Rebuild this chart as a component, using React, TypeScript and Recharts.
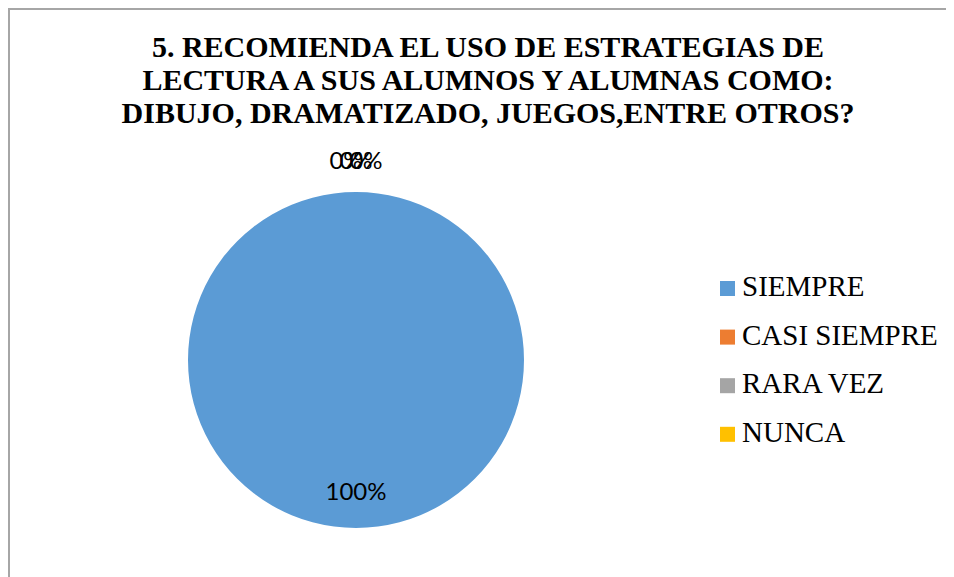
import { PieChart, Pie, Cell, Legend } from "recharts";

const categories = ["SIEMPRE", "CASI SIEMPRE", "RARA VEZ", "NUNCA"];
const values = [100, 0, 0, 0];
const colors = ["#5b9bd5", "#ed7d31", "#a5a5a5", "#ffc000"];
const titleLines = [
  "5. RECOMIENDA EL USO DE ESTRATEGIAS DE",
  "LECTURA A SUS ALUMNOS Y ALUMNAS COMO:",
  "DIBUJO, DRAMATIZADO, JUEGOS,ENTRE OTROS?",
];

const data = categories.map((name, i) => ({ name, value: values[i] }));

const RAD = Math.PI / 180;

// data labels: big slice inside, empty slices stacked outside at the top
function renderLabel(props: any) {
  const { cx, cy, midAngle, outerRadius, percent, index } = props;
  const inside = percent > 0.5;
  const r = inside ? outerRadius - 28 : outerRadius + 23;
  const x = cx + r * Math.cos(-midAngle * RAD) + (inside ? 0 : (index - 2) * 10);
  const y = cy + r * Math.sin(-midAngle * RAD);
  return (
    <text
      x={x}
      y={y}
      textAnchor="middle"
      fill="#000"
      fontFamily="Lato, 'Liberation Sans', sans-serif"
      fontSize={24}
    >
      {`${Math.round(percent * 100)}%`}
    </text>
  );
}

// legend keeps the series order of the data, not alphabetical
function LegendBox() {
  return (
    <svg width={234} height={200} style={{ display: "block" }}>
      {categories.map((name, i) => {
        const base = 26 + i * 48.6;
        return (
          <g key={name}>
            <rect x={5} y={base - 15} width={15} height={15} fill={colors[i]} />
            <text
              x={27}
              y={base}
              fontFamily="'Liberation Serif', 'Times New Roman', serif"
              fontSize={29}
              fill="#000"
            >
              {name}
            </text>
          </g>
        );
      })}
    </svg>
  );
}

export default function App() {
  return (
    <div
      style={{
        marginTop: -8,
        marginLeft: -8,
        position: "relative",
        width: 954,
        height: 577,
        overflow: "hidden",
        background: "#fff",
      }}
    >
      <svg
        width={954}
        height={577}
        style={{ position: "absolute", left: 0, top: 0 }}
      >
        <line x1={8} y1={9} x2={954} y2={9} stroke="#a6a6a6" strokeWidth={2} />
        <line x1={9} y1={8} x2={9} y2={577} stroke="#a6a6a6" strokeWidth={2} />
        {titleLines.map((line, i) => (
          <text
            key={i}
            x={488}
            y={57 + i * 33}
            textAnchor="middle"
            fontFamily="'Liberation Serif', 'Times New Roman', serif"
            fontWeight="bold"
            fontSize={30}
            fill="#000"
          >
            {line}
          </text>
        ))}
      </svg>
      <div style={{ position: "absolute", left: 0, top: 0 }}>
        <PieChart width={954} height={577} margin={{ top: 0, right: 0, bottom: 0, left: 0 }}>
          <Pie
            data={data}
            dataKey="value"
            nameKey="name"
            cx={356}
            cy={360}
            outerRadius={168}
            startAngle={90}
            endAngle={-270}
            stroke="none"
            label={renderLabel}
            labelLine={false}
            isAnimationActive={false}
          >
            {data.map((d, i) => (
              <Cell key={d.name} fill={colors[i]} />
            ))}
          </Pie>
          <Legend
            layout="vertical"
            align="right"
            verticalAlign="top"
            content={LegendBox}
            wrapperStyle={{ position: "absolute", left: 715, top: 270, width: 234 }}
          />
        </PieChart>
      </div>
    </div>
  );
}
